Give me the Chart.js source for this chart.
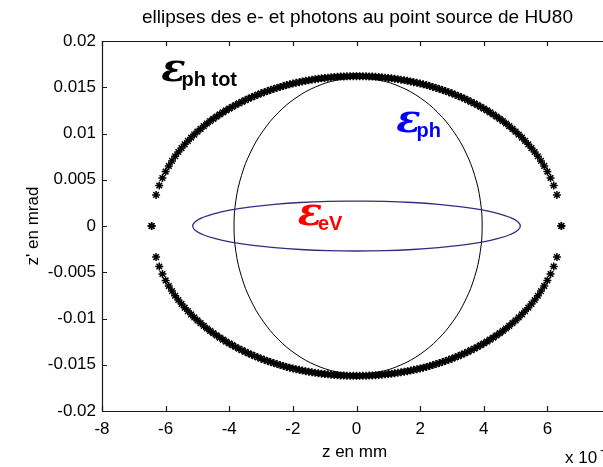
<!DOCTYPE html>
<html>
<head>
<meta charset="utf-8">
<script src="https://cdn.jsdelivr.net/npm/chart.js@4/dist/chart.umd.min.js"></script>
<style>
  html, body { margin: 0; padding: 0; background: #fff; overflow: hidden; width: 603px; height: 467px; }
  #wrap { position: relative; width: 660px; height: 467px; }
</style>
</head>
<body>
<div id="wrap"><canvas id="c" width="660" height="467"></canvas></div>
<script>
// Axis ticks (z in units of 1e-3 mm, z' in mrad)
const xTicks = [-8, -6, -4, -2, 0, 2, 4, 6, 8];
const xTickLabels = ['-8', '-6', '-4', '-2', '0', '2', '4', '6', '8'];
const yTicks = [-0.02, -0.015, -0.01, -0.005, 0, 0.005, 0.01, 0.015, 0.02];
const yTickLabels = ['-0.02', '-0.015', '-0.01', '-0.005', '0', '0.005', '0.01', '0.015', '0.02'];

// Total photon emittance ellipse: sampled points (asterisk markers)
const totX = [-6.44,-6.3,-6.2,-6.1,-6,-5.9,-5.8,-5.7,-5.6,-5.5,-5.4,-5.3,-5.2,-5.1,-5,-4.9,-4.8,-4.7,-4.6,-4.5,-4.4,-4.3,-4.2,-4.1,-4,-3.9,-3.8,-3.7,-3.6,-3.5,-3.4,-3.3,-3.2,-3.1,-3,-2.9,-2.8,-2.7,-2.6,-2.5,-2.4,-2.3,-2.2,-2.1,-2,-1.9,-1.8,-1.7,-1.6,-1.5,-1.4,-1.3,-1.2,-1.1,-1,-0.9,-0.8,-0.7,-0.6,-0.5,-0.4,-0.3,-0.2,-0.1,0,0.1,0.2,0.3,0.4,0.5,0.6,0.7,0.8,0.9,1,1.1,1.2,1.3,1.4,1.5,1.6,1.7,1.8,1.9,2,2.1,2.2,2.3,2.4,2.5,2.6,2.7,2.8,2.9,3,3.1,3.2,3.3,3.4,3.5,3.6,3.7,3.8,3.9,4,4.1,4.2,4.3,4.4,4.5,4.6,4.7,4.8,4.9,5,5.1,5.2,5.3,5.4,5.5,5.6,5.7,5.8,5.9,6,6.1,6.2,6.3,6.44];
const totUpper = [0,0.00336,0.00438,0.00519,0.00589,0.00649,0.00704,0.00754,0.00800,0.00843,0.00883,0.00920,0.00956,0.00989,0.01021,0.01051,0.01080,0.01108,0.01134,0.01159,0.01183,0.01206,0.01228,0.01249,0.01270,0.01289,0.01308,0.01326,0.01343,0.01360,0.01376,0.01391,0.01406,0.01420,0.01434,0.01447,0.01459,0.01471,0.01482,0.01493,0.01503,0.01513,0.01523,0.01532,0.01540,0.01548,0.01555,0.01563,0.01569,0.01575,0.01581,0.01587,0.01592,0.01596,0.01600,0.01604,0.01607,0.01610,0.01613,0.01615,0.01617,0.01618,0.01619,0.01620,0.01620,0.01620,0.01619,0.01618,0.01617,0.01615,0.01613,0.01610,0.01607,0.01604,0.01600,0.01596,0.01592,0.01587,0.01581,0.01575,0.01569,0.01563,0.01555,0.01548,0.01540,0.01532,0.01523,0.01513,0.01503,0.01493,0.01482,0.01471,0.01459,0.01447,0.01434,0.01420,0.01406,0.01391,0.01376,0.01360,0.01343,0.01326,0.01308,0.01289,0.01270,0.01249,0.01228,0.01206,0.01183,0.01159,0.01134,0.01108,0.01080,0.01051,0.01021,0.00989,0.00956,0.00920,0.00883,0.00843,0.00800,0.00754,0.00704,0.00649,0.00589,0.00519,0.00438,0.00336,0];
const totLower = [0,-0.00336,-0.00438,-0.00519,-0.00589,-0.00649,-0.00704,-0.00754,-0.00800,-0.00843,-0.00883,-0.00920,-0.00956,-0.00989,-0.01021,-0.01051,-0.01080,-0.01108,-0.01134,-0.01159,-0.01183,-0.01206,-0.01228,-0.01249,-0.01270,-0.01289,-0.01308,-0.01326,-0.01343,-0.01360,-0.01376,-0.01391,-0.01406,-0.01420,-0.01434,-0.01447,-0.01459,-0.01471,-0.01482,-0.01493,-0.01503,-0.01513,-0.01523,-0.01532,-0.01540,-0.01548,-0.01555,-0.01563,-0.01569,-0.01575,-0.01581,-0.01587,-0.01592,-0.01596,-0.01600,-0.01604,-0.01607,-0.01610,-0.01613,-0.01615,-0.01617,-0.01618,-0.01619,-0.01620,-0.01620,-0.01620,-0.01619,-0.01618,-0.01617,-0.01615,-0.01613,-0.01610,-0.01607,-0.01604,-0.01600,-0.01596,-0.01592,-0.01587,-0.01581,-0.01575,-0.01569,-0.01563,-0.01555,-0.01548,-0.01540,-0.01532,-0.01523,-0.01513,-0.01503,-0.01493,-0.01482,-0.01471,-0.01459,-0.01447,-0.01434,-0.01420,-0.01406,-0.01391,-0.01376,-0.01360,-0.01343,-0.01326,-0.01308,-0.01289,-0.01270,-0.01249,-0.01228,-0.01206,-0.01183,-0.01159,-0.01134,-0.01108,-0.01080,-0.01051,-0.01021,-0.00989,-0.00956,-0.00920,-0.00883,-0.00843,-0.00800,-0.00754,-0.00704,-0.00649,-0.00589,-0.00519,-0.00438,-0.00336,0];

// Photon ellipse (thin black contour), traced from the top, counter-clockwise
const phX = [0.05,-0.6272,-1.2839,-1.9,-2.4569,-2.9376,-3.3275,-3.6148,-3.7908,-3.85,-3.7908,-3.6148,-3.3275,-2.9376,-2.4569,-1.9,-1.2839,-0.6272,0.05,0.7272,1.3839,2.0,2.5569,3.0376,3.4275,3.7148,3.8908,3.95,3.8908,3.7148,3.4275,3.0376,2.5569,2.0,1.3839,0.7272,0.05];
const phY = [0.016,0.01576,0.01504,0.01386,0.01226,0.01028,0.008,0.00547,0.00278,0,-0.00278,-0.00547,-0.008,-0.01028,-0.01226,-0.01386,-0.01504,-0.01576,-0.016,-0.01576,-0.01504,-0.01386,-0.01226,-0.01028,-0.008,-0.00547,-0.00278,0,0.00278,0.00547,0.008,0.01028,0.01226,0.01386,0.01504,0.01576,0.016];

// Electron ellipse (thin blue contour), traced from the top, counter-clockwise
const evX = [0,-0.8943,-1.7614,-2.575,-3.3104,-3.9451,-4.46,-4.8394,-5.0718,-5.15,-5.0718,-4.8394,-4.46,-3.9451,-3.3104,-2.575,-1.7614,-0.8943,0,0.8943,1.7614,2.575,3.3104,3.9451,4.46,4.8394,5.0718,5.15,5.0718,4.8394,4.46,3.9451,3.3104,2.575,1.7614,0.8943,0];
const evY = [0.0027,0.00266,0.00254,0.00234,0.00207,0.00174,0.00135,0.00092,0.00047,0,-0.00047,-0.00092,-0.00135,-0.00174,-0.00207,-0.00234,-0.00254,-0.00266,-0.0027,-0.00266,-0.00254,-0.00234,-0.00207,-0.00174,-0.00135,-0.00092,-0.00047,0,0.00047,0.00092,0.00135,0.00174,0.00207,0.00234,0.00254,0.00266,0.0027];

// Emittance labels, anchored in data coordinates
const emitLabels = [
  { x: -6.14, y: 0.0157, sub: 'ph tot', color: '#000000' },
  { x: 1.25,  y: 0.0102, sub: 'ph',     color: '#0000ff' },
  { x: -1.85, y: 0.0001, sub: 'eV',     color: '#ff0000' }
];

const FONT = '"Liberation Sans", Arial, Helvetica, sans-serif';

const totPoints = totX.map((x, i) => ({ x, y: totUpper[i] }))
  .concat(totX.map((x, i) => ({ x, y: totLower[i] })));
const phPoints = phX.map((x, i) => ({ x, y: phY[i] }));
const evPoints = evX.map((x, i) => ({ x, y: evY[i] }));

// Box, inward tick marks, titles and emittance labels
const matlabFrame = {
  id: 'matlabFrame',
  afterDraw(chart) {
    const { ctx, chartArea: a, scales } = chart;
    const sx = scales.x, sy = scales.y;
    const tick = 5;
    ctx.save();
    ctx.strokeStyle = '#1a1a1a';
    ctx.lineWidth = 1.2;
    ctx.beginPath();
    ctx.rect(Math.round(a.left) + 0.5, Math.round(a.top) + 0.5,
             Math.round(a.right - a.left), Math.round(a.bottom - a.top));
    ctx.stroke();
    ctx.beginPath();
    xTicks.forEach(v => {
      const px = Math.round(sx.getPixelForValue(v)) + 0.5;
      ctx.moveTo(px, a.bottom); ctx.lineTo(px, a.bottom - tick);
      ctx.moveTo(px, a.top); ctx.lineTo(px, a.top + tick);
    });
    yTicks.forEach(v => {
      const py = Math.round(sy.getPixelForValue(v)) + 0.5;
      ctx.moveTo(a.left, py); ctx.lineTo(a.left + tick, py);
      ctx.moveTo(a.right, py); ctx.lineTo(a.right - tick, py);
    });
    ctx.stroke();

    // titles
    ctx.fillStyle = '#000';
    ctx.textAlign = 'center';
    ctx.textBaseline = 'middle';
    ctx.font = '19px ' + FONT;
    ctx.fillText('ellipses des e- et photons au point source de HU80', (a.left + a.right) / 2 + 1, 18);
    ctx.font = '17px ' + FONT;
    ctx.fillText('z en mm', (a.left + a.right) / 2 - 2, 452);
    ctx.save();
    ctx.translate(33, (a.top + a.bottom) / 2);
    ctx.rotate(-Math.PI / 2);
    ctx.fillText("z' en mrad", 0, 0);
    ctx.restore();
    ctx.textAlign = 'left';
    ctx.fillText('x 10', 565, 458);
    ctx.font = '13px ' + FONT;
    ctx.fillText('-3', 600, 450);

    // emittance labels
    ctx.textBaseline = 'alphabetic';
    emitLabels.forEach(l => {
      const px = sx.getPixelForValue(l.x);
      const py = sy.getPixelForValue(l.y);
      ctx.fillStyle = l.color;
      ctx.font = 'bold italic 40px "DejaVu Serif", serif';
      ctx.fillText('\u03b5', px, py);
      const w = ctx.measureText('\u03b5').width;
      ctx.font = 'bold 20px ' + FONT;
      ctx.fillText(l.sub, px + w - 4, py + 5);
    });
    ctx.restore();
  }
};

new Chart(document.getElementById('c'), {
  type: 'scatter',
  data: {
    datasets: [
      { data: totPoints, showLine: false, pointStyle: 'star', pointRadius: 4,
        borderColor: '#000', backgroundColor: '#000', borderWidth: 1.5, order: 3 },
      { data: phPoints, showLine: true, pointRadius: 0, borderColor: '#000',
        borderWidth: 1, tension: 0.4, fill: false, order: 2 },
      { data: evPoints, showLine: true, pointRadius: 0, borderColor: '#2e2e80',
        borderWidth: 1.3, tension: 0.4, fill: false, order: 1 }
    ]
  },
  options: {
    responsive: false,
    animation: false,
    devicePixelRatio: 1,
    events: [],
    layout: { padding: { top: 41, right: 49, left: 0, bottom: 0 } },
    plugins: { legend: { display: false }, tooltip: { enabled: false } },
    scales: {
      x: {
        type: 'linear', min: -8, max: 8,
        afterBuildTicks: s => { s.ticks = xTicks.map(v => ({ value: v })); },
        afterFit: s => { s.height = 56; },
        grid: { display: false, drawTicks: false }, border: { display: false },
        ticks: {
          color: '#000', padding: 8, maxRotation: 0, autoSkip: false,
          font: { family: FONT, size: 17 },
          callback: v => xTickLabels[xTicks.indexOf(v)]
        }
      },
      y: {
        type: 'linear', min: -0.02, max: 0.02,
        afterBuildTicks: s => { s.ticks = yTicks.map(v => ({ value: v })); },
        afterFit: s => { s.width = 102; },
        grid: { display: false, drawTicks: false }, border: { display: false },
        ticks: {
          color: '#000', padding: 6, autoSkip: false,
          font: { family: FONT, size: 17 },
          callback: v => yTickLabels[yTicks.findIndex(t => Math.abs(t - v) < 1e-9)]
        }
      }
    }
  },
  plugins: [matlabFrame]
});
</script>
</body>
</html>
